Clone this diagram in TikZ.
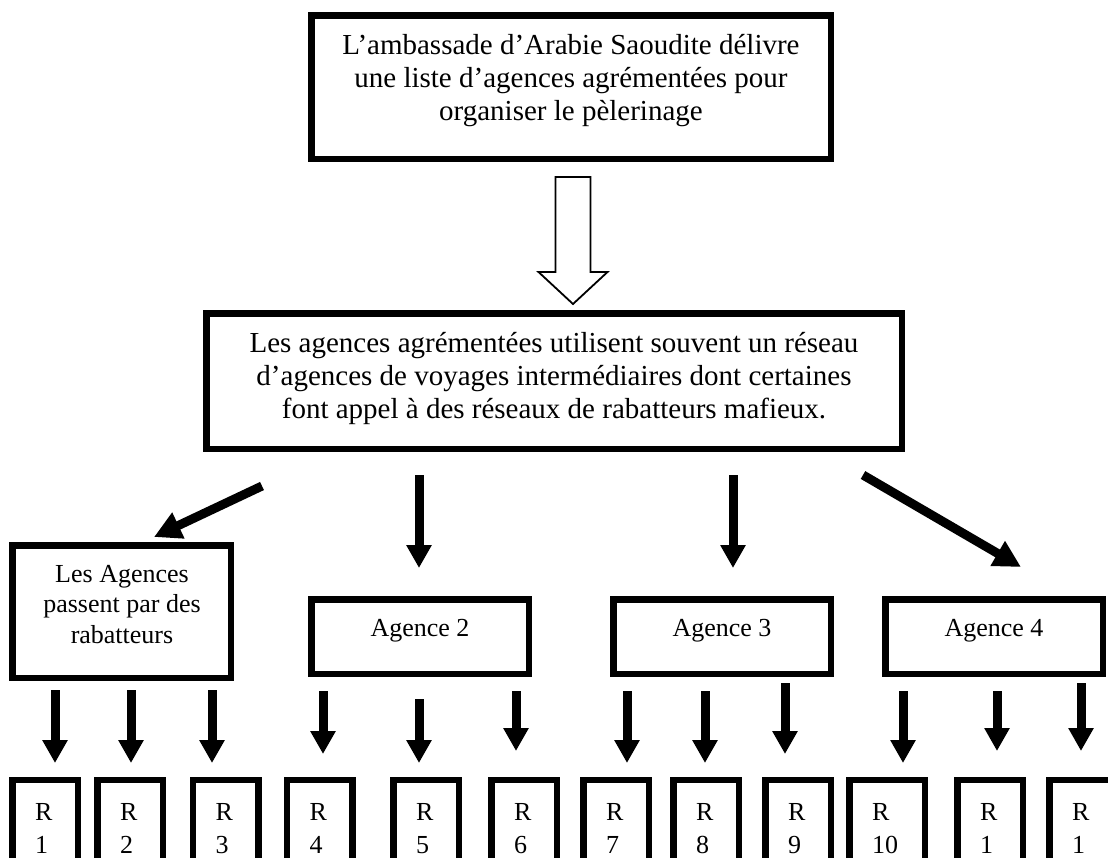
\documentclass[tikz,border=0pt]{standalone}
\usepackage{fontspec}
\setmainfont{Liberation Serif}
\usetikzlibrary{arrows.meta}
\begin{document}
\begin{tikzpicture}[x=1pt,y=-1pt,
  box/.style={draw, line width=6.5pt, inner sep=0pt},
  bigtext/.style={font=\fontsize{29}{33}\selectfont, align=center, inner sep=0pt, anchor=north},
  smalltext/.style={font=\fontsize{26}{32.5}\selectfont},
  agbox/.style={box, smalltext, minimum width=217.5pt, minimum height=74.5pt, text height=12pt, text depth=12pt},
  rbox/.style={box, smalltext, align=left, inner xsep=22.75pt, inner ysep=0pt, minimum height=100.7pt},
  arr/.style={line width=9pt, -{Triangle[width=24pt,length=23pt]}},
  diagarr/.style={line width=9pt, -{Triangle[width=27pt,length=27pt]}},
  hollow/.style={draw, line width=1.8pt, fill=white, line join=miter},
]
\useasboundingbox (0,0) rectangle (1108,857);
\clip (0,0) rectangle (1108,857);
\fill[white] (0,0) rectangle (1108,857);

% top box
\node[box, minimum width=519.5pt, minimum height=143.5pt] (top) at (571,87) {};
\node[bigtext] (toptext) at (571,30.9) {\strut L’ambassade d’Arabie Saoudite délivre\\une liste d’agences agrémentées pour\\organiser le pèlerinage};

% hollow block arrow
\draw[hollow] (555.5,177) -- (590.5,177) -- (590.5,272) -- (607.5,272) -- (573,304) -- (538.5,272) -- (555.5,272) -- cycle;

% middle box
\node[box, minimum width=695.5pt, minimum height=135.5pt] (mid) at (554,381) {};
\node[bigtext] (midtext) at (554,328.9) {\strut Les agences agrémentées utilisent souvent un réseau\\d’agences de voyages intermédiaires dont certaines\\font appel à des réseaux de rabatteurs mafieux.};

% agency boxes
\node[box, minimum width=218.5pt, minimum height=132.5pt] (ag1) at (121.5,611.5) {};
\node[font=\fontsize{26}{30.5}\selectfont, align=center, inner sep=0pt, anchor=north] (ag1text) at (122,560.6) {\strut Les Agences\\passent par des\\rabatteurs};
\node[agbox] (ag2) at (420,636.5) {Agence 2};
\node[agbox] (ag3) at (722,636.5) {Agence 3};
\node[agbox] (ag4) at (994,636.5) {Agence 4};

% R boxes
\foreach \n/\cx/\tw/\lab in {r1/45/20pt/1, r2/130/20pt/2, r3/225.5/20pt/3, r4/319.5/20pt/4, r5/426/20pt/5, r6/524/20pt/6, r7/616/20pt/7, r8/706/20pt/8, r9/798/20pt/9, r10/887/30pt/10, r11/990/20pt/1, r12/1082/20pt/1}
  \node[rbox, text width=\tw] (\n) at (\cx,830.5) {\strut R\\\strut \lab};

% big arrows
\coordinate (a1s) at (262,486);  \coordinate (a1e) at (154,537);
\coordinate (a2s) at (419,475);  \coordinate (a2e) at (419,568);
\coordinate (a3s) at (733,475);  \coordinate (a3e) at (733,568);
\coordinate (a4s) at (863,475);  \coordinate (a4e) at (1021,567);
\draw[diagarr] (a1s) -- (a1e);
\draw[arr] (a2s) -- (a2e);
\draw[arr] (a3s) -- (a3e);
\draw[diagarr] (a4s) -- (a4e);

% small arrows
\foreach \i/\x/\ya/\yb in {1/55/690/763, 2/131/690/763, 3/212/690/763, 4/323/691/754, 5/419/699/763, 6/516/691/751, 7/627/691/763, 8/705/691/763, 9/785/683/754, 10/903/691/763, 11/997/691/751, 12/1081/683/751}
{
  \coordinate (s\i s) at (\x,\ya);
  \coordinate (s\i e) at (\x,\yb);
  \draw[arr] (s\i s) -- (s\i e);
}
\end{tikzpicture}
\end{document}
